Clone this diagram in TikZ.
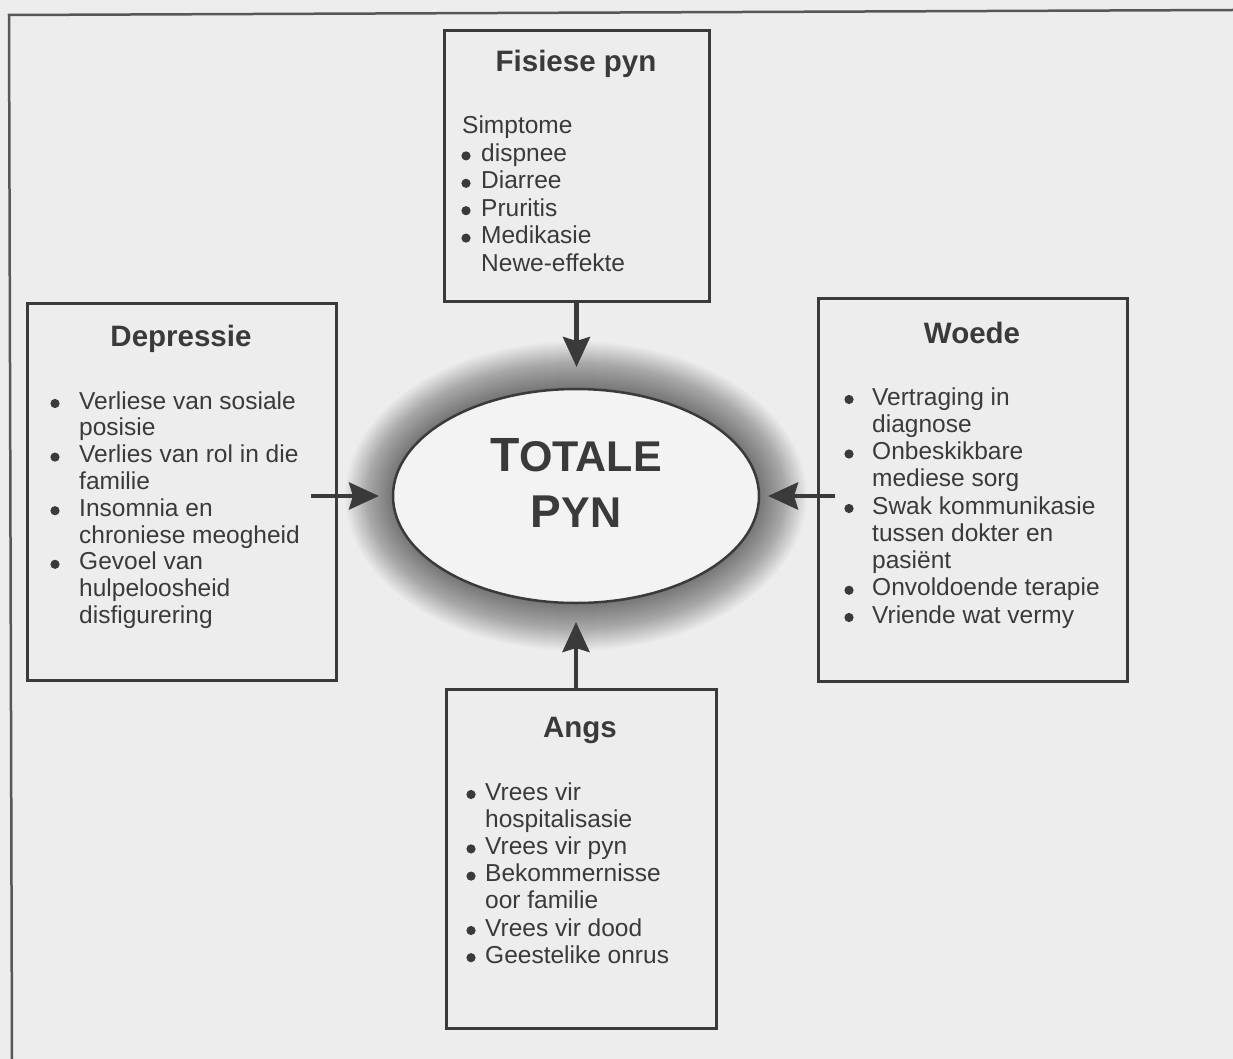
\documentclass[tikz,border=0pt]{standalone}
\usepackage{fontspec}
\setmainfont{Liberation Sans}
\usetikzlibrary{arrows.meta,shapes.geometric}
\definecolor{bg}{RGB}{237,237,237}
\definecolor{ink}{RGB}{58,58,58}
\definecolor{ellfill}{RGB}{243,243,243}
\newcommand{\mylist}[6]{%
  \foreach \bb/\tx [count=\nn from 0] in {#6} {
    \pgfmathsetmacro{\yy}{#4+#5*\nn}
    \ifnum\bb=1 \fill[ink] (#2,\yy-5.5) circle (4.6pt); \fi
    \ifnum\bb=2 \node[itm] (#1-\nn) at (#2-4,\yy) {\tx}; \else \node[itm] (#1-\nn) at (#3,\yy) {\tx}; \fi
  }}
\begin{document}
\begin{tikzpicture}[x=1pt,y=-1pt,
  box/.style={draw=ink, line width=3pt, fill=bg, rectangle, inner sep=0pt, outer sep=0pt},
  ttl/.style={font=\fontsize{29.5}{34}\selectfont\bfseries, text=ink, anchor=base, inner sep=0pt},
  itm/.style={font=\fontsize{24.5}{27}\selectfont, text=ink, anchor=base west, inner sep=0pt},
  arr/.style={draw=ink, line width=4.5pt, -{Stealth[length=30pt,width=27pt,inset=4pt]}}]
\fill[bg] (0,0) rectangle (1233,1059);
\useasboundingbox (0,0) rectangle (1233,1059);
% frame
\draw[ink!85, line width=2.5pt, line join=miter] (1233,10) -- (9,15) -- (12,1059);
% boxes
\node[box, minimum width=265pt, minimum height=270pt] (fis) at (576.5,166) {};
\node[box, minimum width=309pt, minimum height=377pt] (dep) at (181.5,491.5) {};
\node[box, minimum width=309pt, minimum height=383pt] (woe) at (972.5,489.5) {};
\node[box, minimum width=270pt, minimum height=339pt] (angs) at (581,858.5) {};
% glow
\foreach \d in {48,47,...,1} \fill[black, opacity=0.012] (576,496) ellipse ({183+\d} and {107+\d});
\node[draw=ink, line width=2.5pt, fill=ellfill, ellipse, minimum width=366pt, minimum height=214pt, inner sep=0pt, outer sep=0pt] (tot) at (576,496) {};
\node[anchor=base, inner sep=0pt, text=ink, font=\bfseries] (tot1) at (576,471) {\fontsize{48}{48}\selectfont T\fontsize{43}{43}\selectfont OTALE};
\node[anchor=base, inner sep=0pt, text=ink, font=\bfseries] (tot2) at (576,527) {\fontsize{46}{46}\selectfont P\fontsize{43}{43}\selectfont YN};
% titles
\node[ttl] (fisT) at (576,72) {Fisiese pyn};
\node[ttl] (depT) at (181,346) {Depressie};
\node[ttl] (woeT) at (972,343) {Woede};
\node[ttl] (angT) at (580,737) {Angs};
% lists
\mylist{fisL}{466}{481}{134}{27.4}{2/Simptome, 1/dispnee, 1/Diarree, 1/Pruritis, 1/Medikasie, 0/Newe-effekte}
\mylist{depL}{55}{79}{409}{26.8}{1/Verliese van sosiale, 0/posisie, 1/Verlies van rol in die, 0/familie, 1/Insomnia en, 0/chroniese meogheid, 1/Gevoel van, 0/hulpeloosheid, 0/disfigurering}
\mylist{woeL}{849}{872}{405}{27.25}{1/Vertraging in, 0/diagnose, 1/Onbeskikbare, 0/mediese sorg, 1/Swak kommunikasie, 0/tussen dokter en, 0/pasiënt, 1/Onvoldoende terapie, 1/Vriende wat vermy}
\mylist{angL}{471}{485}{800}{27.2}{1/Vrees vir, 0/hospitalisasie, 1/Vrees vir pyn, 1/Bekommernisse, 0/oor familie, 1/Vrees vir dood, 1/Geestelike onrus}
% arrows
\draw[arr, shorten >=22pt] (fis.south) -- (fis.south |- tot.north);
\draw[arr, shorten >=19pt] (angs.north -| tot.south) -- (tot.south);
\draw[arr, shorten >=14pt] ([xshift=-25pt]dep.east |- tot.west) -- (tot.west);
\draw[arr, shorten >=9pt] ([xshift=17pt]woe.west |- tot.east) -- (tot.east);
\end{tikzpicture}
\end{document}
